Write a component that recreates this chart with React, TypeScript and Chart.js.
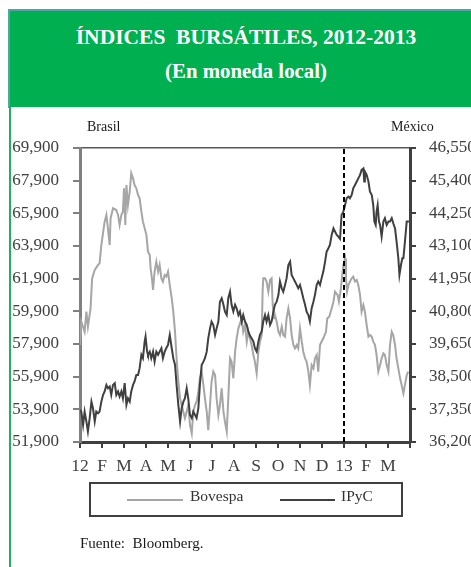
import React, { useEffect, useRef } from "react";
import { Chart, registerables } from "chart.js";

Chart.register(...registerables);

const FONT = '"Liberation Serif", "DejaVu Serif", serif';

const monthLabels = ["12", "F", "M", "A", "M", "J", "J", "A", "S", "O", "N", "D", "13", "F", "M", ""];
const brasilTicks = [51900, 53900, 55900, 57900, 59900, 61900, 63900, 65900, 67900, 69900];
const mexicoTicks = [36200, 37350, 38500, 39650, 40800, 41950, 43100, 44250, 45400, 46550];
const yearBreakMonth = 12;

// [month index since Jan-2012, index level]
const bovespa: [number, number][] = [
  [0.00, 57840], [0.06, 59270], [0.21, 58650], [0.29, 59880], [0.36, 58960], [0.48, 60080], [0.55, 61920],
  [0.67, 62430], [0.82, 62740], [0.89, 62840], [0.97, 63960], [1.12, 65390], [1.20, 65800], [1.27, 64980],
  [1.35, 63960], [1.39, 65590], [1.50, 66210], [1.65, 66100], [1.73, 65800], [1.80, 65190], [1.88, 65800],
  [1.95, 66000], [2.00, 67430], [2.06, 65190], [2.11, 67630], [2.18, 66410], [2.26, 67230], [2.33, 68350],
  [2.41, 68040], [2.48, 67630], [2.56, 67430], [2.64, 67020], [2.71, 66820], [2.79, 66000], [2.86, 65390],
  [2.94, 64980], [3.02, 64570], [3.09, 63550], [3.17, 63350], [3.21, 62530], [3.27, 61920], [3.32, 61210],
  [3.39, 62330], [3.47, 62940], [3.55, 62330], [3.62, 62740], [3.70, 61920], [3.77, 61720], [3.85, 62120],
  [3.92, 62020], [4.00, 62330], [4.08, 61510], [4.17, 60700], [4.24, 59880], [4.32, 58650], [4.39, 57020],
  [4.47, 55590], [4.55, 54570], [4.62, 54160], [4.77, 53350], [4.85, 53760], [4.92, 54160], [5.00, 52940],
  [5.08, 52430], [5.15, 53760], [5.23, 54160], [5.30, 54370], [5.38, 54980], [5.45, 55800], [5.53, 56210],
  [5.61, 55390], [5.68, 54570], [5.76, 53760], [5.83, 52630], [5.91, 54160], [5.98, 55590], [6.06, 56210],
  [6.14, 56000], [6.21, 54570], [6.29, 53550], [6.36, 54160], [6.44, 55180], [6.52, 53760], [6.59, 53140],
  [6.67, 52530], [6.74, 54570], [6.82, 57020], [6.89, 56820], [6.97, 55800], [7.05, 57430], [7.12, 58250],
  [7.20, 58860], [7.35, 59470], [7.42, 58650], [7.50, 59060], [7.58, 58040], [7.65, 58650], [7.80, 57840],
  [7.88, 57230], [7.95, 56820], [8.03, 56100], [8.11, 57430], [8.18, 58040], [8.26, 58450], [8.30, 61100],
  [8.33, 61920], [8.41, 61920], [8.48, 61720], [8.56, 61100], [8.64, 61820], [8.71, 61920], [8.76, 60290],
  [8.82, 59470], [8.86, 59680], [8.94, 59270], [9.02, 58650], [9.09, 58450], [9.17, 58960], [9.24, 58450],
  [9.32, 58350], [9.39, 59470], [9.47, 60080], [9.55, 59470], [9.62, 58450], [9.70, 57840], [9.77, 57630],
  [9.85, 57840], [9.92, 57630], [10.00, 58860], [10.08, 58040], [10.15, 57430], [10.23, 57020], [10.30, 56820],
  [10.38, 56210], [10.45, 55390], [10.53, 56610], [10.61, 56410], [10.68, 57020], [10.76, 57230], [10.83, 56210],
  [10.91, 57840], [10.98, 58040], [11.06, 58250], [11.18, 58650], [11.24, 59470], [11.33, 59570], [11.44, 60080],
  [11.52, 60490], [11.59, 61100], [11.71, 60900], [11.77, 60490], [11.86, 61310], [11.92, 62120], [11.97, 62740],
  [12.05, 63140], [12.09, 61920], [12.14, 61100], [12.20, 61510], [12.27, 61720], [12.35, 61920], [12.42, 62020],
  [12.50, 61720], [12.58, 61820], [12.65, 61510], [12.73, 60900], [12.80, 59880], [12.88, 60290], [12.95, 59880],
  [13.03, 59060], [13.11, 58350], [13.18, 58450], [13.26, 58350], [13.33, 58040], [13.41, 57840], [13.48, 57230],
  [13.56, 56210], [13.64, 56610], [13.71, 57020], [13.79, 57330], [13.86, 57230], [13.94, 56610], [14.02, 56210],
  [14.09, 57840], [14.17, 58650], [14.24, 58450], [14.32, 57840], [14.39, 57020], [14.47, 56410], [14.55, 55800],
  [14.62, 55390], [14.70, 54880], [14.77, 55390], [14.85, 56000], [14.92, 56210],
];

const ipyc: [number, number][] = [
  [0.00, 37330], [0.06, 37270], [0.14, 36800], [0.21, 37270], [0.29, 36920], [0.36, 36570], [0.44, 37040],
  [0.52, 37620], [0.59, 37390], [0.67, 36920], [0.74, 37270], [0.82, 37210], [0.89, 37270], [0.97, 37620],
  [1.05, 37860], [1.12, 37980], [1.20, 38210], [1.27, 38090], [1.35, 38150], [1.42, 37860], [1.50, 38210],
  [1.58, 38270], [1.65, 37860], [1.73, 37980], [1.80, 37800], [1.88, 37980], [1.95, 37740], [2.03, 38270],
  [2.11, 37510], [2.18, 37740], [2.26, 37620], [2.33, 37980], [2.41, 38210], [2.48, 38330], [2.56, 38560],
  [2.64, 38560], [2.71, 38800], [2.79, 39270], [2.86, 39150], [2.94, 39740], [2.98, 39910], [3.05, 39380],
  [3.09, 39270], [3.17, 39380], [3.24, 39150], [3.32, 39380], [3.39, 39030], [3.47, 39380], [3.55, 39270],
  [3.62, 39380], [3.70, 39500], [3.77, 39150], [3.85, 39380], [3.92, 39500], [4.00, 39620], [4.08, 39970],
  [4.17, 39500], [4.24, 39150], [4.32, 38910], [4.39, 38210], [4.47, 37510], [4.55, 36920], [4.62, 37390],
  [4.70, 37620], [4.77, 37740], [4.85, 38090], [4.92, 37740], [5.00, 37150], [5.08, 37040], [5.15, 37270],
  [5.23, 37150], [5.30, 37040], [5.38, 37390], [5.45, 38210], [5.53, 38910], [5.61, 39030], [5.68, 39150],
  [5.76, 39380], [5.83, 39850], [5.91, 40200], [5.98, 40440], [6.06, 40320], [6.14, 39970], [6.21, 40200],
  [6.29, 40440], [6.36, 41140], [6.44, 41260], [6.52, 41030], [6.59, 40790], [6.67, 40670], [6.74, 41260],
  [6.82, 41490], [6.89, 41030], [6.97, 40790], [7.05, 41030], [7.12, 40910], [7.20, 40670], [7.27, 40790],
  [7.35, 40440], [7.42, 40670], [7.50, 40440], [7.58, 40320], [7.65, 40090], [7.73, 39940], [7.80, 39850],
  [7.88, 39740], [7.95, 39500], [8.03, 39380], [8.11, 39740], [8.18, 39970], [8.26, 40090], [8.33, 40440],
  [8.41, 40670], [8.48, 40440], [8.56, 40670], [8.64, 40320], [8.71, 40440], [8.79, 40790], [8.86, 41030],
  [8.94, 41140], [9.02, 41380], [9.09, 41850], [9.17, 41610], [9.24, 41490], [9.32, 41730], [9.39, 41960],
  [9.47, 42430], [9.55, 42550], [9.62, 42080], [9.70, 41960], [9.77, 41850], [9.85, 41730], [9.92, 41610],
  [10.00, 41730], [10.08, 41490], [10.15, 41260], [10.23, 41030], [10.30, 40790], [10.38, 40670], [10.45, 40440],
  [10.53, 40910], [10.61, 41140], [10.68, 41380], [10.76, 41730], [10.83, 41850], [10.91, 41730], [10.98, 41960],
  [11.06, 42200], [11.14, 42550], [11.21, 42900], [11.29, 43020], [11.36, 43140], [11.44, 43490], [11.52, 43720],
  [11.59, 43610], [11.67, 43490], [11.74, 43430], [11.82, 43350], [11.89, 44190], [11.97, 44310], [12.05, 44540],
  [12.12, 44780], [12.20, 44840], [12.27, 44780], [12.35, 44900], [12.42, 45130], [12.50, 45250], [12.58, 45370],
  [12.65, 45480], [12.73, 45600], [12.80, 45780], [12.88, 45830], [12.92, 45370], [12.95, 45720], [13.03, 45600],
  [13.11, 45370], [13.18, 45010], [13.26, 44900], [13.33, 44540], [13.38, 43960], [13.44, 43840], [13.48, 44310],
  [13.53, 44540], [13.59, 43960], [13.64, 43840], [13.71, 43430], [13.79, 43960], [13.86, 44080], [13.94, 43840],
  [14.02, 43960], [14.09, 43960], [14.17, 44080], [14.24, 43900], [14.32, 43720], [14.39, 43250], [14.47, 42670],
  [14.52, 42080], [14.59, 42430], [14.65, 42670], [14.70, 42670], [14.77, 43250], [14.85, 43960], [14.95, 43960],
];

const fmt = (v: number) => String(Math.round(v)).replace(/\B(?=(\d{3})+(?!\d))/g, ",");

export default function App() {
  const canvasRef = useRef<HTMLCanvasElement | null>(null);

  useEffect(() => {
    document.body.style.margin = "0";
    const canvas = canvasRef.current;
    if (!canvas) return;
    const chart = new Chart(canvas, {
      type: "line",
      data: {
        datasets: [
          {
            label: "corte",
            data: [
              { x: yearBreakMonth, y: brasilTicks[0] },
              { x: yearBreakMonth, y: brasilTicks[brasilTicks.length - 1] },
            ],
            xAxisID: "x",
            yAxisID: "yL",
            borderColor: "#000000",
            borderWidth: 2,
            borderDash: [5, 3],
            pointRadius: 0,
            order: 0,
          },
          {
            label: "IPyC",
            data: ipyc.map(([x, y]) => ({ x, y })),
            xAxisID: "x",
            yAxisID: "yR",
            borderColor: "#404040",
            borderWidth: 2,
            pointRadius: 0,
            tension: 0,
            order: 1,
          },
          {
            label: "Bovespa",
            data: bovespa.map(([x, y]) => ({ x, y })),
            xAxisID: "x",
            yAxisID: "yL",
            borderColor: "#A6A6A6",
            borderWidth: 2,
            pointRadius: 0,
            tension: 0,
            order: 2,
          },
        ],
      },
      options: {
        responsive: false,
        animation: false,
        devicePixelRatio: 1,
        events: [],
        layout: { padding: { left: 0, right: 0, top: 148, bottom: 85 } },
        plugins: { legend: { display: false }, tooltip: { enabled: false } },
        scales: {
          x: {
            type: "linear",
            position: "bottom",
            min: 0,
            max: monthLabels.length - 1,
            afterBuildTicks: (s: any) => {
              s.ticks = monthLabels.map((_, i) => ({ value: i }));
            },
            afterFit: (s: any) => {
              s.height = 40;
            },
            ticks: {
              autoSkip: false,
              maxRotation: 0,
              padding: 8,
              color: "#404040",
              font: { family: FONT, size: 17.5 },
              callback: (v: any) => monthLabels[Number(v)] ?? "",
            },
            grid: {
              drawOnChartArea: false,
              drawTicks: true,
              tickLength: 6,
              tickWidth: 2,
              tickColor: "#404040",
              lineWidth: 2,
              color: "#404040",
            },
            border: { display: true, color: "#404040", width: 3 },
          },
          xTop: {
            type: "linear",
            position: "top",
            min: 0,
            max: monthLabels.length - 1,
            afterFit: (s: any) => {
              s.height = 0;
            },
            ticks: { display: false },
            grid: { drawOnChartArea: false, drawTicks: false },
            border: { display: true, color: "#595959", width: 1.5 },
          },
          yL: {
            type: "linear",
            position: "left",
            min: brasilTicks[0],
            max: brasilTicks[brasilTicks.length - 1],
            afterBuildTicks: (s: any) => {
              s.ticks = brasilTicks.map((v) => ({ value: v }));
            },
            afterFit: (s: any) => {
              s.width = 80;
            },
            ticks: {
              padding: 14,
              color: "#404040",
              font: { family: FONT, size: 17 },
              callback: (v: any) => fmt(Number(v)),
            },
            grid: {
              drawOnChartArea: false,
              drawTicks: true,
              tickLength: 7,
              tickWidth: 2,
              tickColor: "#808080",
              lineWidth: 2,
              color: "#808080",
            },
            border: { display: true, color: "#808080", width: 3 },
          },
          yR: {
            type: "linear",
            position: "right",
            min: mexicoTicks[0],
            max: mexicoTicks[mexicoTicks.length - 1],
            afterBuildTicks: (s: any) => {
              s.ticks = mexicoTicks.map((v) => ({ value: v }));
            },
            afterFit: (s: any) => {
              s.width = 61;
            },
            ticks: {
              padding: 13,
              color: "#404040",
              font: { family: FONT, size: 17 },
              callback: (v: any) => fmt(Number(v)),
            },
            grid: {
              drawOnChartArea: false,
              drawTicks: true,
              tickLength: 6,
              tickWidth: 2,
              tickColor: "#404040",
              lineWidth: 2,
              color: "#404040",
            },
            border: { display: true, color: "#404040", width: 3 },
          },
        },
      },
    } as any);
    return () => chart.destroy();
  }, []);

  const abs = (s: React.CSSProperties): React.CSSProperties => ({ position: "absolute", ...s });

  return (
    <div
      style={{
        position: "relative",
        width: 471,
        height: 567,
        overflow: "hidden",
        background: "#ffffff",
        fontFamily: FONT,
        color: "#1a1a1a",
      }}
    >
      <canvas ref={canvasRef} width={471} height={567} style={abs({ left: 0, top: 0, width: 471, height: 567 })} />
      <div style={abs({ left: 8, top: 9, width: 470, height: 2, background: "#4AA9A3" })} />
      <div style={abs({ left: 8, top: 9, width: 2, height: 99, background: "#4AA9A3" })} />
      <div style={abs({ left: 9, top: 107, width: 2, height: 470, background: "#1DB455" })} />
      <div style={abs({ left: 10, top: 11, width: 472, height: 96, background: "#00B050" })} />
      <div
        style={abs({
          left: 10,
          top: 27,
          width: 472,
          textAlign: "center",
          color: "#ffffff",
          fontWeight: "bold",
          fontSize: 21.5,
          lineHeight: "21.5px",
          whiteSpace: "pre",
        })}
      >
        ÍNDICES  BURSÁTILES, 2012-2013
      </div>
      <div
        style={abs({
          left: 10,
          top: 60.5,
          width: 472,
          textAlign: "center",
          color: "#ffffff",
          fontWeight: "bold",
          fontSize: 20.8,
          lineHeight: "20.8px",
        })}
      >
        (En moneda local)
      </div>
      <div style={abs({ left: 87, top: 120, fontSize: 14, lineHeight: "14px" })}>Brasil</div>
      <div style={abs({ left: 391, top: 120, fontSize: 14, lineHeight: "14px" })}>México</div>

      <div
        style={abs({
          left: 89,
          top: 482,
          width: 314,
          height: 35,
          boxSizing: "border-box",
          border: "2px solid #404040",
        })}
      />
      <div style={abs({ left: 127, top: 499, width: 56, height: 2, background: "#A6A6A6" })} />
      <div style={abs({ left: 190, top: 488, fontSize: 15.5, lineHeight: "15.5px", color: "#333333" })}>Bovespa</div>
      <div style={abs({ left: 280, top: 499, width: 55, height: 2, background: "#404040" })} />
      <div style={abs({ left: 341, top: 488, fontSize: 15.5, lineHeight: "15.5px", color: "#333333" })}>IPyC</div>

      <div style={abs({ left: 80, top: 535.5, fontSize: 15, lineHeight: "15px", whiteSpace: "pre" })}>
        Fuente:  Bloomberg.
      </div>
    </div>
  );
}
